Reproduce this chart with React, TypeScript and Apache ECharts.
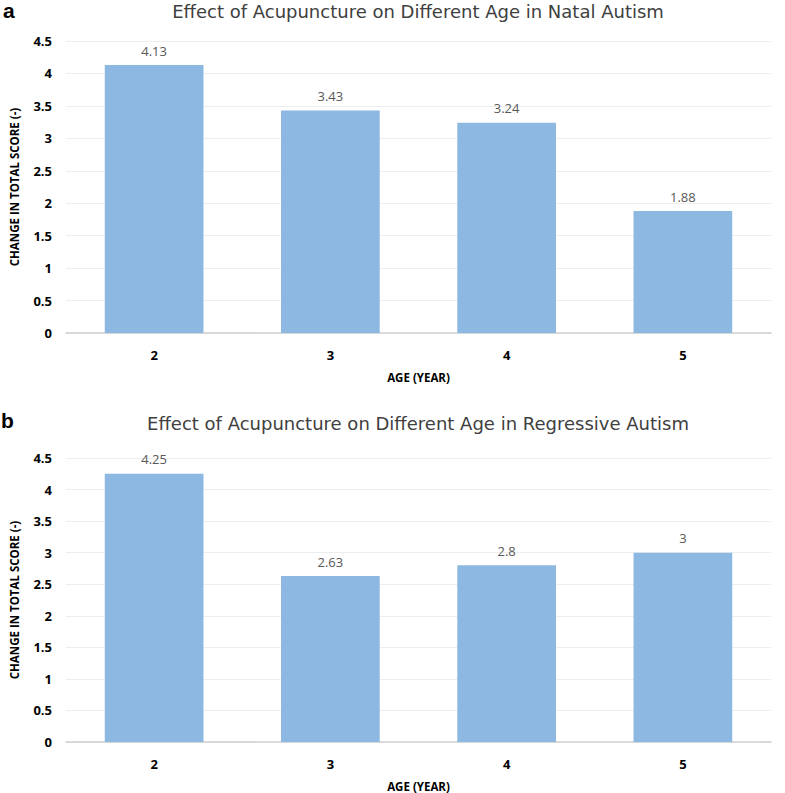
import React, { useEffect, useRef } from "react";
import * as echarts from "echarts";

const categories = ["2", "3", "4", "5"];
const natalValues = [4.13, 3.43, 3.24, 1.88];
const regressiveValues = [4.25, 2.63, 2.8, 3];
const titleA = "Effect of Acupuncture on Different Age in Natal Autism";
const titleB = "Effect of Acupuncture on Different Age in Regressive Autism";
const xName = "AGE (YEAR)";
const yName = "CHANGE IN TOTAL SCORE (-)";

const FONT = "'Open Sans', 'Noto Sans', sans-serif";
const TITLE_FONT = "'DejaVu Sans', 'Open Sans', sans-serif";
const LETTER_FONT = "'Liberation Sans', Arial, sans-serif";

function makeX(gridIndex: number) {
  return {
    type: "category",
    gridIndex,
    data: categories,
    name: xName,
    nameLocation: "middle",
    nameGap: 38,
    nameTextStyle: { fontFamily: FONT, fontWeight: "bold", fontSize: 11.5, color: "#000" },
    axisLine: { show: true, lineStyle: { color: "#d0d0d0", width: 1.5 } },
    axisTick: { show: false },
    axisLabel: { margin: 15, fontFamily: FONT, fontWeight: "bold", fontSize: 13, color: "#000" },
  };
}

function makeY(gridIndex: number) {
  return {
    type: "value",
    gridIndex,
    min: 0,
    max: 4.5,
    interval: 0.5,
    name: yName,
    nameLocation: "middle",
    nameGap: 46,
    nameTextStyle: { fontFamily: FONT, fontWeight: "bold", fontSize: 11.5, color: "#000" },
    axisLine: { show: false },
    axisTick: { show: false },
    axisLabel: { margin: 14, fontFamily: FONT, fontWeight: "bold", fontSize: 13, color: "#000" },
    splitLine: { show: true, lineStyle: { color: "#eeeeee", width: 1 } },
  };
}

function makeSeries(index: number, data: number[]) {
  return {
    type: "bar",
    xAxisIndex: index,
    yAxisIndex: index,
    data,
    barWidth: "56%",
    itemStyle: { color: "#8db8e2" },
    label: {
      show: true,
      position: "top",
      distance: 8,
      fontFamily: FONT,
      fontSize: 13,
      color: "#595959",
    },
  };
}

export default function App() {
  const ref = useRef<HTMLDivElement>(null);
  useEffect(() => {
    if (!ref.current) return;
    const chart = echarts.init(ref.current, null, { renderer: "svg" });
    chart.setOption({
      animation: false,
      backgroundColor: "#ffffff",
      title: [
        {
          text: titleA,
          left: 418,
          textAlign: "center",
          top: 2,
          padding: 0,
          textStyle: { fontFamily: TITLE_FONT, fontWeight: "normal", fontSize: 18, color: "#404040" },
        },
        {
          text: titleB,
          left: 418,
          textAlign: "center",
          top: 414,
          padding: 0,
          textStyle: { fontFamily: TITLE_FONT, fontWeight: "normal", fontSize: 18, color: "#404040" },
        },
        {
          text: "a",
          left: 3,
          top: 0,
          padding: 0,
          textStyle: { fontFamily: LETTER_FONT, fontWeight: "bold", fontSize: 21, color: "#000" },
        },
        {
          text: "b",
          left: 1,
          top: 410,
          padding: 0,
          textStyle: { fontFamily: LETTER_FONT, fontWeight: "bold", fontSize: 21, color: "#000" },
        },
      ],
      grid: [
        { left: 66, right: 14, top: 41, height: 292 },
        { left: 66, right: 14, top: 458, height: 285 },
      ],
      xAxis: [makeX(0), makeX(1)],
      yAxis: [makeY(0), makeY(1)],
      series: [makeSeries(0, natalValues), makeSeries(1, regressiveValues)],
    });
    return () => chart.dispose();
  }, []);
  return (
    <div
      ref={ref}
      style={{ position: "fixed", left: 0, top: 0, width: 785, height: 793 }}
    />
  );
}
